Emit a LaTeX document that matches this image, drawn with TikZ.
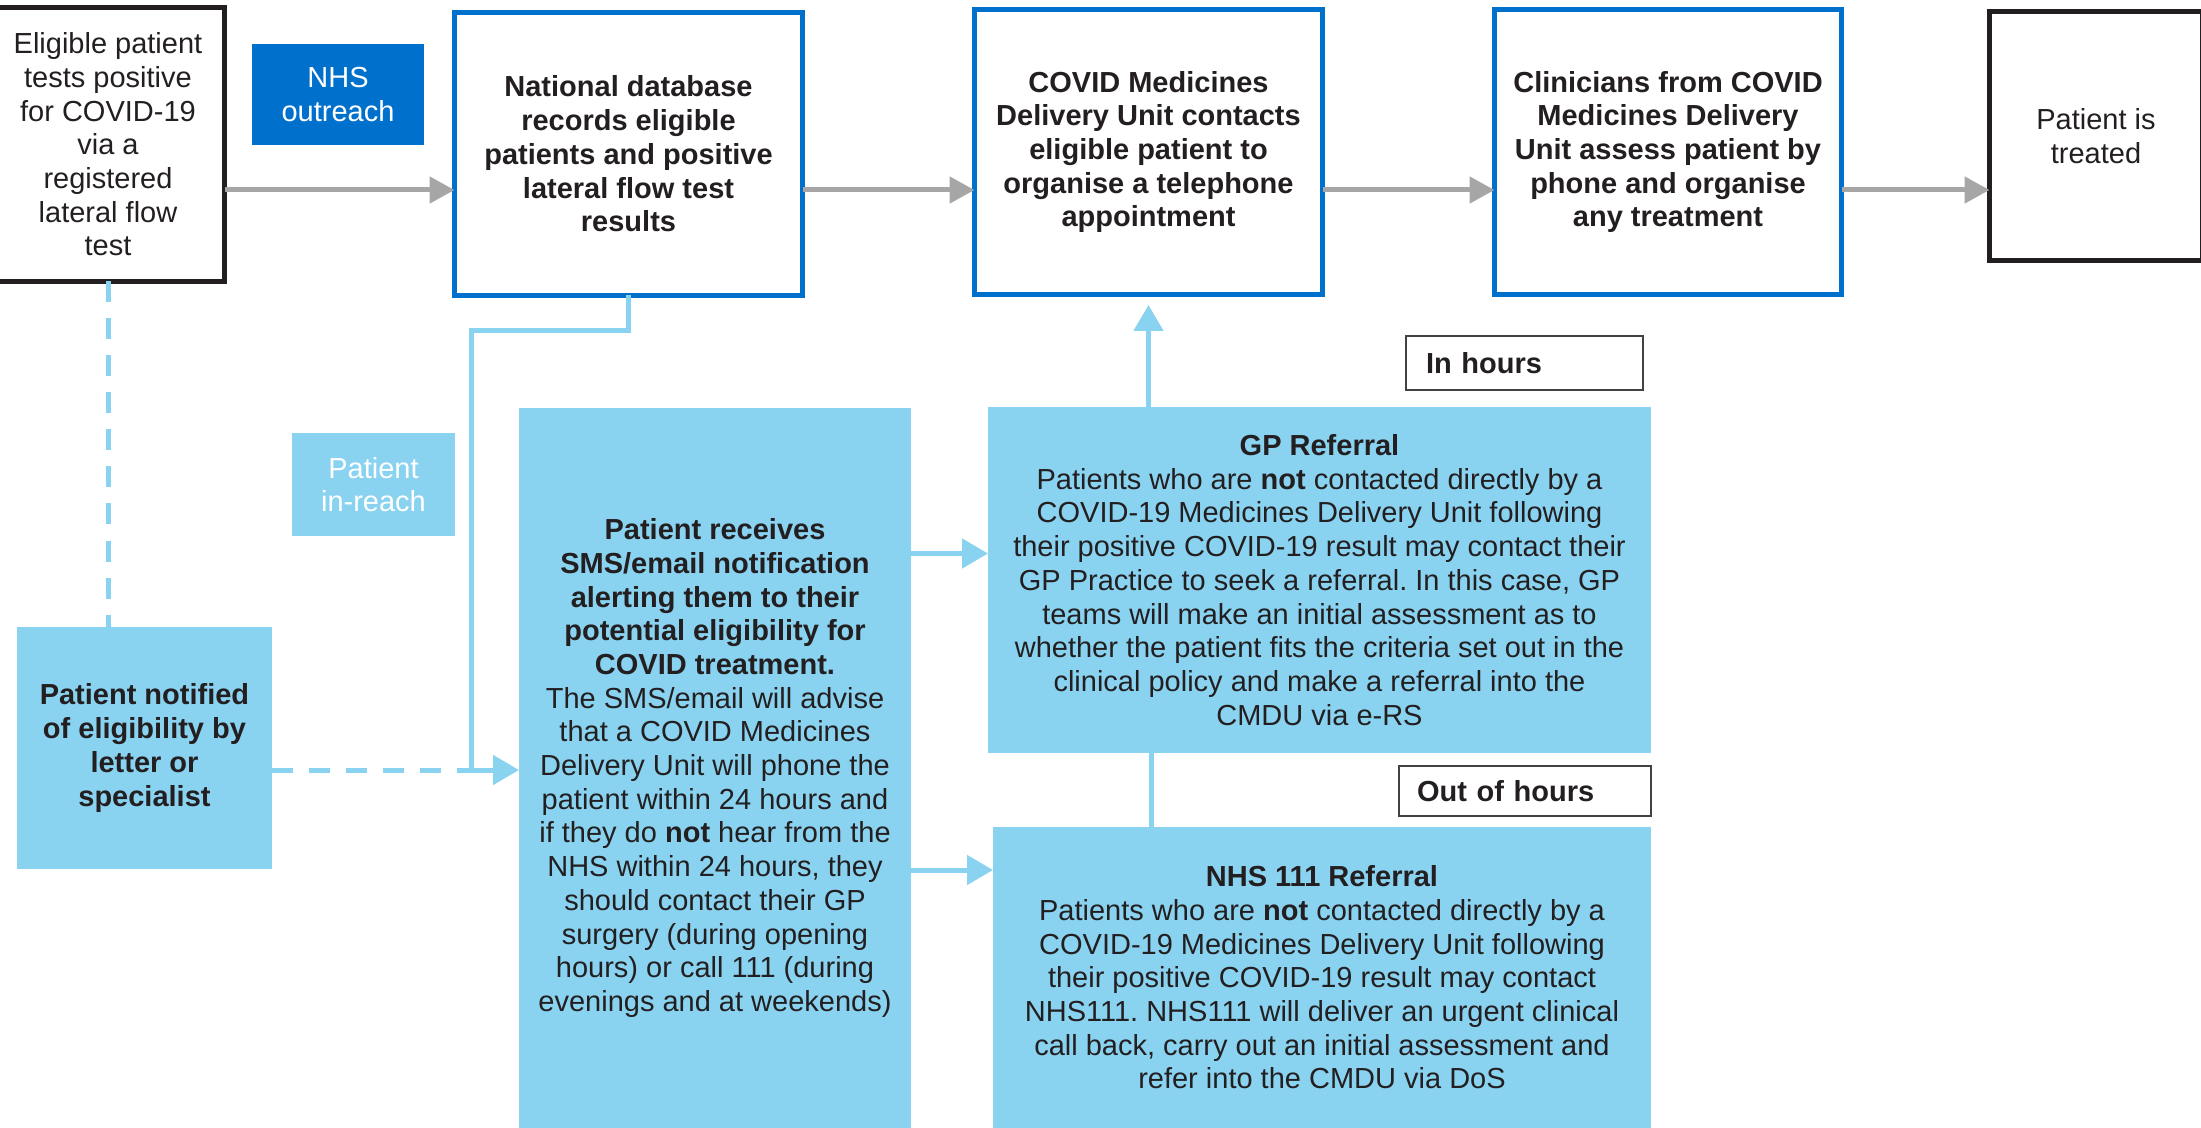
\documentclass[tikz,border=0pt]{standalone}
\usepackage{fontspec}
\setmainfont{Liberation Sans}
\usetikzlibrary{arrows.meta}
\definecolor{dblue}{RGB}{0,112,205}
\definecolor{lblue}{RGB}{137,211,241}
\definecolor{agray}{RGB}{166,166,166}
\definecolor{txt}{RGB}{35,31,32}
\frenchspacing
\begin{document}
\begin{tikzpicture}[x=0.5pt,y=-0.5pt,
  base/.style={font=\fontsize{14.5}{16.85}\selectfont, text=txt, align=center, inner sep=0pt, outer sep=0pt},
  boldbase/.style={base, font=\fontsize{14.5}{16.85}\selectfont\bfseries},
  blackbox/.style={base, draw=txt, line width=2.5pt},
  bluebox/.style={boldbase, draw=dblue, line width=2.5pt},
  lightbox/.style={base, fill=lblue},
  tagbox/.style={base, text=white},
  labelbox/.style={boldbase, draw=txt!85, line width=1pt, align=left, inner xsep=10pt, inner ysep=0pt},
  garrow/.style={draw=agray, line width=2.5pt, -{Triangle[length=12.5pt,width=13pt]}},
  barrow/.style={draw=lblue, line width=2.5pt, -{Triangle[length=13pt,width=14.5pt]}},
  bline/.style={draw=lblue, line width=2.5pt},
  bdash/.style={draw=lblue, line width=2.5pt, dash pattern=on 10.5pt off 8pt}
]
\useasboundingbox (0,0) rectangle (2201,1128);

% top row
\node[blackbox, minimum width=116.5pt, minimum height=137pt] (box1) at (108,144.5)
  {Eligible patient\\tests positive\\for COVID-19\\via a\\registered\\lateral flow\\test};
\node[tagbox, fill=dblue, minimum width=86pt, minimum height=50.5pt] (outreach) at (338,94.5)
  {NHS\\outreach};
\node[bluebox, minimum width=174pt, minimum height=141.5pt] (box2) at (628.5,154)
  {National database\\records eligible\\patients and positive\\lateral flow test\\results};
\node[bluebox, minimum width=174pt, minimum height=142.5pt] (box3) at (1148.5,152)
  {COVID Medicines\\Delivery Unit contacts\\eligible patient to\\organise a telephone\\appointment};
\node[bluebox, minimum width=173.5pt, minimum height=142.5pt] (box4) at (1668,152)
  {Clinicians from COVID\\Medicines Delivery\\Unit assess patient by\\phone and organise\\any treatment};
\node[blackbox, minimum width=106.5pt, minimum height=124.5pt] (box5) at (2096,136)
  {Patient is\\treated};

% lower part
\node[tagbox, fill=lblue, minimum width=81.5pt, minimum height=51.5pt] (inreach) at (373.5,484.5)
  {Patient\\in-reach};
\node[lightbox, font=\fontsize{14.5}{16.85}\selectfont\bfseries, minimum width=127.5pt, minimum height=121pt] (notified) at (144.5,748)
  {Patient notified\\of eligibility by\\letter or\\specialist};
\node[lightbox, minimum width=196pt, minimum height=360pt] (sms) at (715,768)
  {\textbf{Patient receives}\\\textbf{SMS/email notification}\\\textbf{alerting them to their}\\\textbf{potential eligibility for}\\\textbf{COVID treatment.}\\The SMS/email will advise\\that a COVID Medicines\\Delivery Unit will phone the\\patient within 24 hours and\\if they do \textbf{not} hear from the\\NHS within 24 hours, they\\should contact their GP\\surgery (during opening\\hours) or call 111 (during\\evenings and at weekends)};
\node[lightbox, minimum width=331.5pt, minimum height=173pt] (gp) at (1319.5,580)
  {\textbf{GP Referral}\\Patients who are \textbf{not} contacted directly by a\\COVID-19 Medicines Delivery Unit following\\their positive COVID-19 result may contact their\\GP Practice to seek a referral. In this case, GP\\teams will make an initial assessment as to\\whether the patient fits the criteria set out in the\\clinical policy and make a referral into the\\CMDU via e-RS};
\node[lightbox, minimum width=329pt, minimum height=150.5pt] (nhs111) at (1322,977.5)
  {\textbf{NHS 111 Referral}\\Patients who are \textbf{not} contacted directly by a\\COVID-19 Medicines Delivery Unit following\\their positive COVID-19 result may contact\\NHS111. NHS111 will deliver an urgent clinical\\call back, carry out an initial assessment and\\refer into the CMDU via DoS};
\node[labelbox, text width=98.5pt, minimum height=27pt] (inhours) at (1524.5,363) {In hours};
\node[labelbox, inner xsep=9pt, text width=108pt, minimum height=25pt] (outhours) at (1525,791) {Out of hours};

% helper coordinates
\coordinate (ytop) at (0,190);
\coordinate (corner) at (471,330.5);
\coordinate (join) at (471,770);
\coordinate (ya) at (0,553.5);
\coordinate (yb) at (0,870);
\coordinate (xl) at (1151,0);

% top flow arrows
\draw[garrow] (box1.east |- ytop) -- (box2.west |- ytop);
\draw[garrow] (box2.east |- ytop) -- (box3.west |- ytop);
\draw[garrow] (box3.east |- ytop) -- (box4.west |- ytop);
\draw[garrow] (box4.east |- ytop) -- (box5.west |- ytop);

% dashed links
\draw[bdash] (box1.south) -- (box1.south |- notified.north);
\draw[bdash] (notified.east |- join) -- (join);

% in-reach connector
\draw[barrow] (box2.south) |- (corner) -- (join) -- (sms.west |- join);

% referrals
\draw[barrow] (sms.east |- ya) -- (gp.west |- ya);
\draw[barrow] (sms.east |- yb) -- (nhs111.west |- yb);
\draw[barrow, shorten >=5.25pt] (box3.south |- gp.north) -- (box3.south);
\draw[bline] (xl |- nhs111.north) -- (xl |- gp.south);
\end{tikzpicture}
\end{document}
